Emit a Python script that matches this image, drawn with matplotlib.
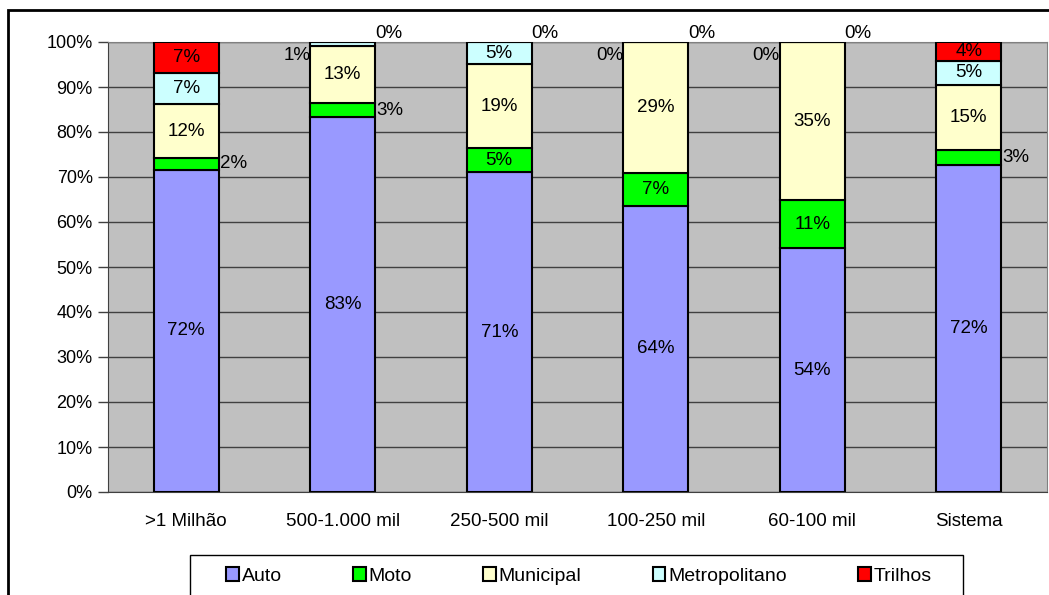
import matplotlib.pyplot as plt
import matplotlib.patches as patches
import numpy as np

plt.rcParams['font.family'] = ['Liberation Sans', 'DejaVu Sans']

categories = ['>1 Milhão', '500-1.000 mil', '250-500 mil', '100-250 mil', '60-100 mil', 'Sistema']
series_names = ['Auto', 'Moto', 'Municipal', 'Metropolitano', 'Trilhos']
colors = ['#9999FF', '#00FF00', '#FFFFCC', '#CCFFFF', '#FF0000']

# shares (fraction of 100)
auto = [71.6, 83.3, 71.1, 63.6, 54.2, 72.6]
moto = [2.6, 3.1, 5.3, 7.3, 10.6, 3.3]
municipal = [12.0, 12.7, 18.7, 29.1, 35.2, 14.6]
metropolitano = [7.0, 0.9, 4.9, 0.0, 0.0, 5.3]
trilhos = [6.8, 0.0, 0.0, 0.0, 0.0, 4.2]
labels = [
    ['72%', '83%', '71%', '64%', '54%', '72%'],
    ['2%', '3%', '5%', '7%', '11%', '3%'],
    ['12%', '13%', '19%', '29%', '35%', '15%'],
    ['7%', '1%', '5%', '0%', '0%', '5%'],
    ['7%', '0%', '0%', '0%', '0%', '4%'],
]

series = [auto, moto, municipal, metropolitano, trilhos]

fig = plt.figure(figsize=(10.49, 5.95), dpi=100)
W, H = 1049, 595
ax = fig.add_axes([108 / W, 1 - 492 / H, (1047 - 108) / W, (492 - 42) / H])

# outer chart frame
fig.add_artist(patches.Rectangle((8 / W, -0.05), 1.1, 1 - 10 / H + 0.05,
                                 transform=fig.transFigure, fill=False,
                                 edgecolor='black', linewidth=2))
# legend box (runs past the bottom edge)
fig.add_artist(patches.Rectangle((190 / W, -0.05), (963 - 190) / W, 1 - 555 / H + 0.05,
                                 transform=fig.transFigure, fill=False,
                                 edgecolor='black', linewidth=1))

lbl_fs = 13.5
x = np.arange(len(categories))
width = 0.415
bottom = np.zeros(len(categories))
handles = []
for si, (vals, col, name) in enumerate(zip(series, colors, series_names)):
    vals = np.array(vals)
    b = ax.bar(x, vals / 100, width, bottom=bottom / 100, color=col,
               edgecolor='black', linewidth=1.5, label=name, zorder=3)
    handles.append(b)
    for i, v in enumerate(vals):
        mid = (bottom[i] + v / 2) / 100
        lab = labels[si][i]
        if si == 1 and v < 4:
            ax.text(x[i] + width / 2 + 0.005, mid, lab, ha='left', va='center', fontsize=lbl_fs, zorder=5)
        elif si == 3 and v < 2:
            ax.text(x[i] - width / 2, 0.97, lab, ha='right', va='center', fontsize=lbl_fs, zorder=5)
        elif si == 4 and v == 0:
            ax.text(x[i] + width / 2, 1.02, lab, ha='left', va='center', fontsize=lbl_fs,
                    zorder=5, clip_on=False)
        elif v > 0:
            ax.text(x[i], mid, lab, ha='center', va='center', fontsize=lbl_fs, zorder=5)
    bottom += vals

ax.set_facecolor('#C0C0C0')
ax.set_xlim(-0.5, len(categories) - 0.5)
ax.set_ylim(0, 1)
ax.set_yticks(np.arange(0, 1.01, 0.1))
ax.set_yticklabels([f'{int(round(t * 100))}%' for t in np.arange(0, 1.01, 0.1)], fontsize=13)
ax.set_xticks(x)
ax.set_xticklabels(categories, fontsize=13.5)
ax.tick_params(axis='x', length=0, pad=15)
ax.tick_params(axis='y', length=7, width=1, color='#404040', pad=4)
ax.yaxis.grid(True, color='#404040', linewidth=1, zorder=1)
ax.set_axisbelow(True)
for s in ['top', 'right']:
    ax.spines[s].set_color('#808080')
for s in ['left', 'bottom']:
    ax.spines[s].set_color('#404040')

leg = fig.legend(handles=handles, loc='center left',
                 bbox_to_anchor=(226 / W, 1 - 576 / H, (932 - 226) / W, 0.0),
                 ncol=5, mode='expand', fontsize=14, frameon=False,
                 handlelength=0.65, handleheight=0.75, handletextpad=0.15,
                 borderaxespad=0, borderpad=0)

fig.savefig('out.png', dpi=100)
